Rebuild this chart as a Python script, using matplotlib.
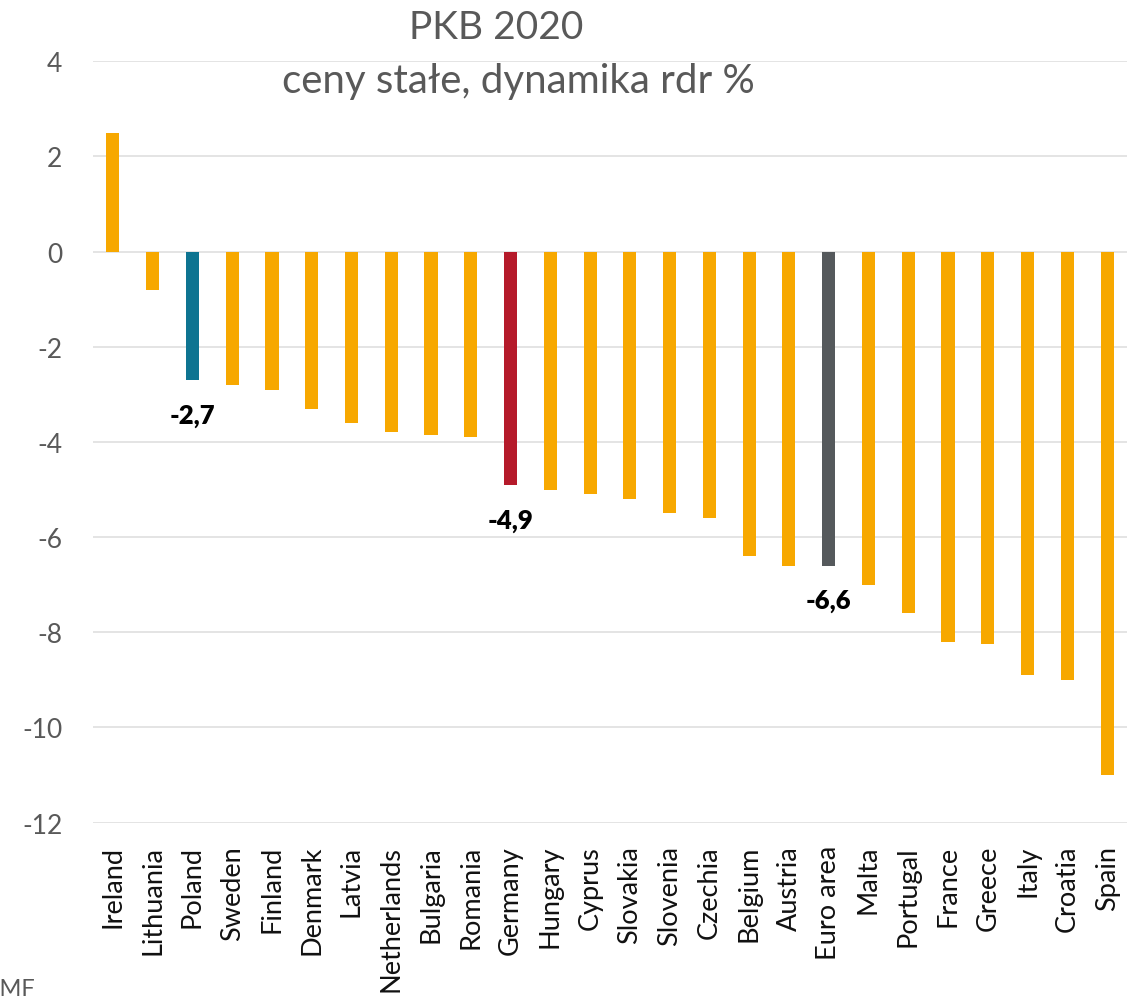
import matplotlib.pyplot as plt
import numpy as np

countries = ['Ireland', 'Lithuania', 'Poland', 'Sweden', 'Finland', 'Denmark', 'Latvia',
             'Netherlands', 'Bulgaria', 'Romania', 'Germany', 'Hungary', 'Cyprus', 'Slovakia',
             'Slovenia', 'Czechia', 'Belgium', 'Austria', 'Euro area', 'Malta', 'Portugal',
             'France', 'Greece', 'Italy', 'Croatia', 'Spain']
gdp_change = [2.5, -0.8, -2.7, -2.8, -2.9, -3.3, -3.6, -3.8, -3.85, -3.9, -4.9, -5.0, -5.1,
              -5.2, -5.5, -5.6, -6.4, -6.6, -6.6, -7.0, -7.6, -8.2, -8.25, -8.9, -9.0, -11.0]
highlight = {'Poland': '-2,7', 'Germany': '-4,9', 'Euro area': '-6,6'}

plt.rcParams['font.family'] = ['Lato', 'DejaVu Sans']
plt.rcParams['axes.unicode_minus'] = False

colors = []
for c in countries:
    if c == 'Poland':
        colors.append('#0E7491')
    elif c == 'Germany':
        colors.append('#B51A2A')
    elif c == 'Euro area':
        colors.append('#55595C')
    else:
        colors.append('#F7A800')

fig = plt.figure(figsize=(11.34, 10.03), dpi=100)
ax = fig.add_axes([0.082, 0.1788, 0.9118, 0.7591])

xpos = np.arange(len(countries))
ax.bar(xpos, gdp_change, width=0.33, color=colors, zorder=3)

for i, c in enumerate(countries):
    if c in highlight:
        ax.annotate(highlight[c], (xpos[i], gdp_change[i]), xytext=(0, -25),
                    textcoords='offset points', ha='center', va='center',
                    fontsize=18.5, fontweight='heavy', color='black', zorder=4)

ax.set_xlim(-0.5, len(countries) - 0.5)
ax.set_ylim(-12, 4)
ax.set_yticks(np.arange(-12, 5, 2))
ax.yaxis.grid(True, color='#E2E2E2', linewidth=1.3, zorder=0)
ax.set_xticks(xpos)
ax.set_xticklabels(countries, rotation=90, fontsize=19.5, color='#111111')
ax.tick_params(axis='x', length=0, pad=16)
ax.tick_params(axis='y', length=0, pad=22, labelsize=19, labelcolor='#595959')
for s in ax.spines.values():
    s.set_visible(False)

fig.text(496 / 1134, 1 - 28 / 1003, 'PKB 2020', ha='center', va='center',
         fontsize=28, color='#595959')
fig.text(518 / 1134, 1 - 81 / 1003, 'ceny stałe, dynamika rdr %', ha='center', va='center',
         fontsize=29, color='#595959')
fig.text(36 / 1134, 1 - 990 / 1003, 'IMF', ha='right', va='center',
         fontsize=17, color='#595959')

fig.savefig('out.png', dpi=100)
